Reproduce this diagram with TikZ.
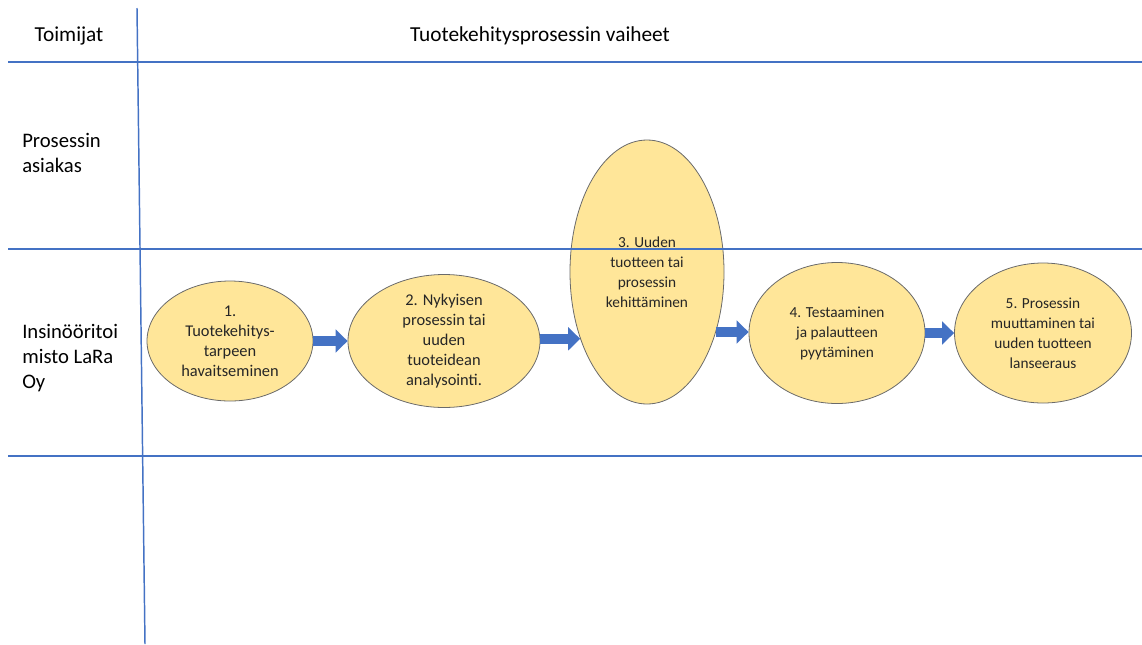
\documentclass[tikz,border=0pt]{standalone}
\usepackage{fontspec}
\setmainfont{Carlito}
\usetikzlibrary{shapes.geometric,arrows.meta}
\definecolor{laneblue}{HTML}{4472C4}
\definecolor{stagefill}{HTML}{FFE699}
\definecolor{stageedge}{HTML}{6A6A6A}
\begin{document}
\begin{tikzpicture}[x=0.75pt,y=-0.75pt,
  laneline/.style={draw=laneblue,line width=1.1pt},
  lanelabel/.style={anchor=west,align=left,inner sep=0pt,
    font=\fontsize{15.5pt}{18.75pt}\selectfont},
  stage/.style={ellipse,draw=stageedge,line width=0.6pt,fill=stagefill,
    inner sep=0pt,align=center,text=black!85,
    font=\fontsize{11.5pt}{15pt}\selectfont},
  bigtext/.style={font=\fontsize{12.3pt}{15pt}\selectfont},
  flow/.style={draw=laneblue,line width=7.5pt,
    -{Triangle[length=9pt,width=17pt]}}]
\useasboundingbox (0,0) rectangle (1142,644);

% process stages
\node[stage,bigtext,minimum width=124.5pt,minimum height=90pt] (e1) at (230,341)
  {1.\\Tuotekehitys-\\tarpeen\\havaitseminen};
\node[stage,bigtext,minimum width=144pt,minimum height=96pt] (e2) at (444,341)
  {2. Nykyisen\\prosessin tai\\uuden\\tuoteidean\\analysointi.};
\node[stage,minimum width=115.5pt,minimum height=198pt] (e3) at (647,272)
  {3. Uuden\\tuotteen tai\\prosessin\\kehittäminen};
\node[stage,minimum width=132pt,minimum height=105.75pt] (e4) at (837,333)
  {4. Testaaminen\\ja palautteen\\pyytäminen};
\node[stage,minimum width=132.75pt,minimum height=105pt] (e5) at (1043,333)
  {5. Prosessin\\muuttaminen tai\\uuden tuotteen\\lanseeraus};

% flow arrows between stages
\draw[flow] (e1.east) -- (e2.west);
\draw[flow] (e2.east |- e3.225) -- (e3.225);
\draw[flow] (e3.319) -- (e3.319 -| e4.west);
\draw[flow] (e4.east) -- (e5.west);

% swimlane grid
\draw[laneline] (137,8) -- (145,644);
\draw[laneline] (8,62) -- (1142,62);
\draw[laneline] (8,249) -- (1142,249);
\draw[laneline] (8,456) -- (1142,456);

% headers and lane labels
\node[font=\fontsize{16pt}{19pt}\selectfont,inner sep=0pt] (hdrA) at (69,36) {Toimijat};
\node[font=\fontsize{16pt}{19pt}\selectfont,inner sep=0pt] (hdrB) at (540,36)
  {Tuotekehitysprosessin vaiheet};
\node[lanelabel] (laneA) at (22,152.5) {Prosessin\\asiakas};
\node[lanelabel] (laneB) at (22,358) {Insinööritoi\\misto LaRa\\Oy};
\end{tikzpicture}
\end{document}
